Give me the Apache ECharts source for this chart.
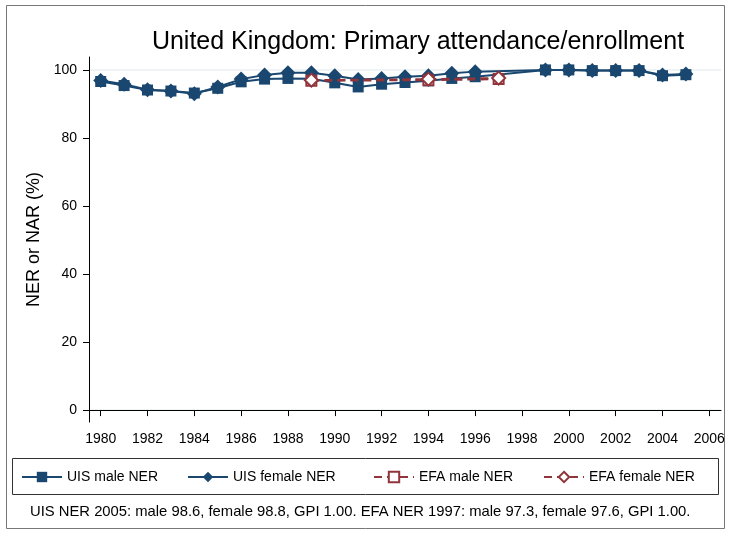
<!DOCTYPE html>
<html>
<head>
<meta charset="utf-8">
<script src="https://cdn.jsdelivr.net/npm/echarts@6/dist/echarts.min.js"></script>
<style>
  html, body { margin: 0; padding: 0; background: #fff; }
  #chart { width: 731px; height: 536px; }
</style>
</head>
<body>
<div id="chart"></div>
<script>
// UIS years (no UIS values for 1997, 1998)
const uisYears = [1980, 1981, 1982, 1983, 1984, 1985, 1986, 1987, 1988, 1989, 1990, 1991, 1992,
  1993, 1994, 1995, 1996, 1999, 2000, 2001, 2002, 2003, 2004, 2005];
const uisMale = [96.6, 95.4, 94.1, 93.8, 93.2, 94.6, 96.5, 97.3, 97.5, 97.4, 96.2, 95.0, 95.8,
  96.3, 96.8, 97.5, 98.0, 100.0, 100.0, 99.8, 99.8, 99.8, 98.3, 98.6];
const uisFemale = [96.9, 95.8, 94.2, 93.8, 93.0, 95.0, 97.3, 98.5, 99.2, 99.2, 98.3, 97.2, 97.5,
  98.0, 98.3, 99.0, 99.5, 100.0, 100.0, 99.8, 99.8, 99.8, 98.5, 98.8];
const efaYears = [1989, 1994, 1997];
const efaMale = [96.8, 97.0, 97.3];
const efaFemale = [97.0, 97.3, 97.6];
const xTicks = [1980, 1982, 1984, 1986, 1988, 1990, 1992, 1994, 1996, 1998, 2000, 2002, 2004, 2006];
const yTicks = [0, 20, 40, 60, 80, 100];
const gridValues = [0, 100];
const legendNames = ['UIS male NER', 'UIS female NER', 'EFA male NER', 'EFA female NER'];
const legendLeft = [21, 187, 373, 543];

const navy = '#1a476f';
const maroon = '#90353b';
const font = 'Liberation Sans, Arial, sans-serif';

const pairs = (xs, ys) => xs.map((x, i) => [x, ys[i]]);

const chart = echarts.init(document.getElementById('chart'));
const option = {
  backgroundColor: '#fff',
  animation: false,
  textStyle: { fontFamily: font },
  title: {
    text: 'United Kingdom: Primary attendance/enrollment',
    left: 413,
    top: 25,
    textAlign: 'center',
    textStyle: { fontSize: 25, fontWeight: 'normal', color: '#000', fontFamily: font }
  },
  grid: { left: 89, right: 10, top: 57, bottom: 114 },
  xAxis: {
    type: 'value',
    min: 1979.5,
    max: 2006.5,
    axisLine: { lineStyle: { color: '#000', width: 1 } },
    axisTick: { show: true, length: 6, lineStyle: { color: '#000' }, customValues: xTicks },
    axisLabel: {
      customValues: xTicks, color: '#000', fontSize: 14, margin: 10, fontFamily: font,
      formatter: (v) => String(v)
    },
    splitLine: { show: false }
  },
  yAxis: {
    type: 'value',
    min: -3.5,
    max: 103.8,
    name: 'NER or NAR (%)',
    nameLocation: 'middle',
    nameGap: 44,
    nameTextStyle: { fontSize: 18, color: '#000', fontFamily: font },
    axisLine: { show: true, lineStyle: { color: '#000', width: 1 } },
    axisTick: { show: true, length: 6, lineStyle: { color: '#000' }, customValues: yTicks },
    axisLabel: { customValues: yTicks, color: '#000', fontSize: 14, margin: 12, fontFamily: font },
    splitLine: { show: false }
  },
  legend: legendNames.map((name, i) => ({
    left: legendLeft[i],
    top: 470,
    padding: 0,
    itemWidth: 40,
    itemHeight: 13,
    textStyle: { fontSize: 14, color: '#000', fontFamily: font },
    data: [name]
  })),
  graphic: [
    { type: 'rect', shape: { x: 6.5, y: 5.5, width: 718, height: 523 },
      style: { fill: 'none', stroke: '#777', lineWidth: 1 }, silent: true },
    { type: 'rect', shape: { x: 12.5, y: 458.5, width: 706, height: 36 },
      style: { fill: 'none', stroke: '#333', lineWidth: 1 }, silent: true },
    { type: 'text', left: 30, top: 504,
      style: { text: 'UIS NER 2005: male 98.6, female 98.8, GPI 1.00. EFA NER 1997: male 97.3, female 97.6, GPI 1.00.',
        font: '14.8px ' + font, fill: '#000' } }
  ],
  series: [
    {
      name: 'gridlines', type: 'line', data: [], z: 0, silent: true,
      markLine: {
        z: 0, silent: true, symbol: 'none', label: { show: false },
        lineStyle: { color: '#eaf2f3', width: 1.5, type: 'solid' },
        data: gridValues.map((v) => ({ yAxis: v }))
      }
    },
    {
      name: 'UIS male NER', type: 'line', data: pairs(uisYears, uisMale),
      symbol: 'rect', symbolSize: 11, z: 3,
      lineStyle: { color: navy, width: 2 }, itemStyle: { color: navy }
    },
    {
      name: 'UIS female NER', type: 'line', data: pairs(uisYears, uisFemale),
      symbol: 'diamond', symbolSize: 15, z: 3,
      lineStyle: { color: navy, width: 2 }, itemStyle: { color: navy }
    },
    {
      name: 'EFA male NER', type: 'line', data: pairs(efaYears, efaMale),
      symbol: 'emptyRect', symbolSize: 10, z: 4,
      lineStyle: { color: maroon, width: 2, type: [8, 5] },
      itemStyle: { color: maroon, borderColor: maroon, borderWidth: 1.5 }
    },
    {
      name: 'EFA female NER', type: 'line', data: pairs(efaYears, efaFemale),
      symbol: 'emptyDiamond', symbolSize: 13, z: 4,
      lineStyle: { color: maroon, width: 2, type: [8, 5] },
      itemStyle: { color: maroon, borderColor: maroon, borderWidth: 1.5 }
    }
  ]
};
chart.setOption(option);
</script>
</body>
</html>
